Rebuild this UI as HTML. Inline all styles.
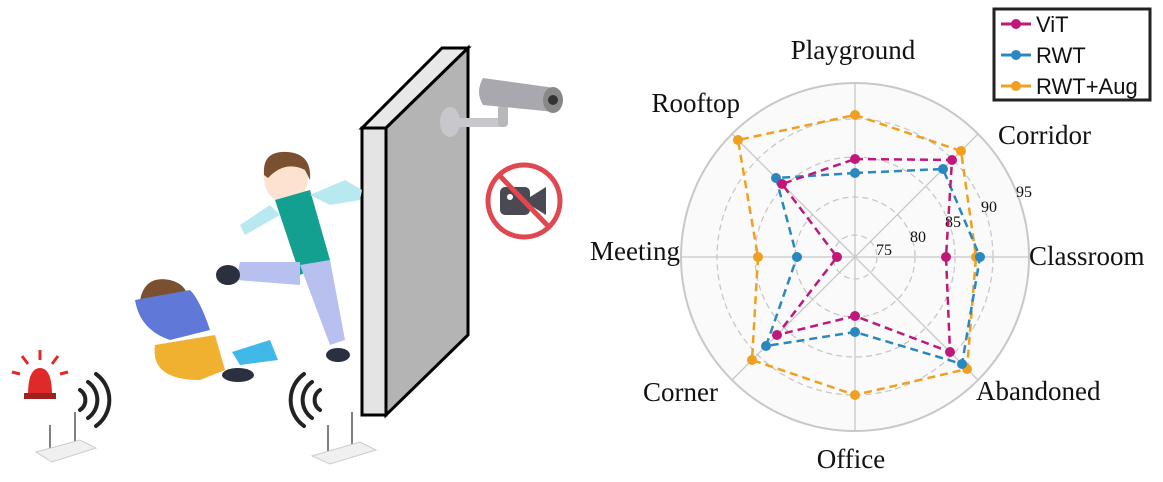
<!DOCTYPE html>
<html><head><meta charset="utf-8"><style>
html,body{margin:0;padding:0;background:#fff;}
svg{display:block;}
</style></head><body>
<svg width="1163" height="482" viewBox="0 0 1163 482" xmlns="http://www.w3.org/2000/svg">
<!-- wall -->
<polygon points="362,128 442,48 468,48 386,128" fill="#e8e8e8" stroke="#000" stroke-width="3"/>
<polygon points="386,128 468,48 468,335 386,415" fill="#b4b4b4" stroke="#000" stroke-width="3"/>
<rect x="362" y="128" width="24" height="287" fill="#e4e4e4" stroke="#000" stroke-width="3"/>
<!-- camera -->
<ellipse cx="450" cy="122" rx="10" ry="15" fill="#c8c8cc"/>
<rect x="450" y="118" width="52" height="9" fill="#c8c8cc"/>
<rect x="498" y="105" width="10" height="22" rx="4" fill="#b8b8bc"/>
<path d="M483,78 L555,88 Q565,100 555,112 L483,105 Q475,92 483,78Z" fill="#a8a8ae"/>
<ellipse cx="553" cy="100" rx="10" ry="13" fill="#888"/>
<circle cx="553" cy="100" r="5" fill="#333"/>
<!-- no-camera sign -->
<circle cx="524" cy="201" r="36" fill="#fff" stroke="#e04850" stroke-width="5"/>
<rect x="500" y="187" width="30" height="28" rx="5" fill="#4a4a55"/>
<polygon points="530,197 546,187 546,215 530,205" fill="#4a4a55"/>
<circle cx="510" cy="197" r="3" fill="#fff"/>
<line x1="500" y1="176" x2="548" y2="226" stroke="#e04850" stroke-width="5"/>
<!-- attacker -->
<ellipse cx="286" cy="178" rx="22" ry="25" fill="#fde3cf"/>
<path d="M264,175 Q262,150 288,152 Q312,154 310,180 L305,170 Q285,160 268,178Z" fill="#7a5030"/>
<path d="M275,200 L310,190 L330,260 L300,275 Z" fill="#14a090"/>
<path d="M300,265 L330,260 L345,340 L330,345 Z" fill="#b8c0f0"/>
<path d="M300,262 L240,262 L236,280 L300,285 Z" fill="#b8c0f0"/>
<ellipse cx="228" cy="275" rx="12" ry="10" fill="#2a3040"/>
<ellipse cx="338" cy="355" rx="12" ry="7" fill="#2a3040"/>
<path d="M270,205 L240,225 L245,235 L280,215Z" fill="#b8e8f0"/>
<path d="M310,195 L345,180 L362,190 L360,200 L330,205Z" fill="#b8e8f0"/>
<!-- victim -->
<ellipse cx="165" cy="308" rx="22" ry="24" fill="#fde3cf"/>
<path d="M140,300 Q145,275 170,280 Q190,285 188,305 L170,295 Z" fill="#7a5030"/>
<path d="M135,300 Q140,330 170,340 L210,330 Q200,300 190,290 Z" fill="#6078d8"/>
<path d="M155,345 Q150,380 200,380 L225,370 L215,335 Z" fill="#f0b030"/>
<ellipse cx="238" cy="375" rx="16" ry="7" fill="#2a3040"/>
<polygon points="232,352 270,340 278,360 240,365" fill="#40b8e8"/>
<!-- alarm -->
<path d="M28,395 Q28,368 40,368 Q52,368 52,395Z" fill="#e02a2a"/>
<rect x="24" y="393" width="32" height="6" fill="#a02020"/>
<g stroke="#e02a2a" stroke-width="3">
<line x1="40" y1="360" x2="40" y2="350"/><line x1="28" y1="364" x2="22" y2="356"/><line x1="52" y1="364" x2="58" y2="356"/>
<line x1="20" y1="374" x2="12" y2="372"/><line x1="60" y1="374" x2="68" y2="372"/>
</g>
<!-- wifi arcs -->
<g fill="none" stroke="#222" stroke-width="4" stroke-linecap="round">
<path d="M80,410 A12,12 0 0 0 80,390"/><path d="M88,418 A22,22 0 0 0 88,382"/><path d="M96,426 A32,32 0 0 0 96,374"/>
<path d="M320,410 A12,12 0 0 1 320,390"/><path d="M312,418 A22,22 0 0 1 312,382"/><path d="M304,426 A32,32 0 0 1 304,374"/>
</g>
<!-- routers -->
<g stroke="#555" stroke-width="1.5"><line x1="50" y1="425" x2="50" y2="448"/><line x1="75" y1="412" x2="75" y2="442"/>
<line x1="328" y1="425" x2="328" y2="452"/><line x1="352" y1="412" x2="352" y2="446"/></g>
<polygon points="36,452 80,440 96,448 52,462" fill="#f0f0f0" stroke="#ccc"/>
<polygon points="312,456 360,442 376,450 330,464" fill="#f0f0f0" stroke="#ccc"/>

<!-- ===== Radar chart ===== -->
<circle cx="855" cy="257" r="174" fill="#fafafa" stroke="#c8c8c8" stroke-width="2"/>
<g fill="none" stroke="#c8c8c8" stroke-width="1.3" stroke-dasharray="6,4">
<circle cx="855" cy="257" r="22"/><circle cx="855" cy="257" r="60"/><circle cx="855" cy="257" r="100"/><circle cx="855" cy="257" r="138"/>
</g>
<g stroke="#c8c8c8" stroke-width="1.3">
<line x1="855" y1="83" x2="855" y2="431"/><line x1="681" y1="257" x2="1029" y2="257"/>
<line x1="732" y1="134" x2="978" y2="380"/><line x1="978" y1="134" x2="732" y2="380"/>
</g>
<g font-family="Liberation Serif, serif" font-size="16" fill="#111">
<text x="876" y="255">75</text><text x="910" y="242">80</text><text x="945" y="227">85</text><text x="981" y="212">90</text><text x="1016" y="197">95</text>
</g>
<polygon points="855,115 961,151 976,257 967,369 855,395 752,360 758,257 738,140" fill="none" stroke="#f0a020" stroke-width="2.5" stroke-dasharray="8,5"/>
<g fill="#f0a020"><circle cx="855" cy="115" r="5"/><circle cx="961" cy="151" r="5"/><circle cx="976" cy="257" r="5"/><circle cx="967" cy="369" r="5"/><circle cx="855" cy="395" r="5"/><circle cx="752" cy="360" r="5"/><circle cx="758" cy="257" r="5"/><circle cx="738" cy="140" r="5"/></g>
<polygon points="855,173 943,169 980,257 962,364 855,332 766,346 797,257 776,178" fill="none" stroke="#2a88c0" stroke-width="2.5" stroke-dasharray="8,5"/>
<g fill="#2a88c0"><circle cx="855" cy="173" r="5"/><circle cx="943" cy="169" r="5"/><circle cx="980" cy="257" r="5"/><circle cx="962" cy="364" r="5"/><circle cx="855" cy="332" r="5"/><circle cx="766" cy="346" r="5"/><circle cx="797" cy="257" r="5"/><circle cx="776" cy="178" r="5"/></g>
<polygon points="855,159 952,160 946,257 950,352 855,316 777,335 837,257 782,184" fill="none" stroke="#c0187a" stroke-width="2.5" stroke-dasharray="8,5"/>
<g fill="#c0187a"><circle cx="855" cy="159" r="5"/><circle cx="952" cy="160" r="5"/><circle cx="946" cy="257" r="5"/><circle cx="950" cy="352" r="5"/><circle cx="855" cy="316" r="5"/><circle cx="777" cy="335" r="5"/><circle cx="837" cy="257" r="5"/><circle cx="782" cy="184" r="5"/></g>
<g font-family="Liberation Serif, serif" font-size="27" fill="#111">
<text x="853" y="59" text-anchor="middle">Playground</text>
<text x="998" y="144">Corridor</text>
<text x="1029" y="265">Classroom</text>
<text x="976" y="400">Abandoned</text>
<text x="851" y="468" text-anchor="middle">Office</text>
<text x="718" y="401" text-anchor="end">Corner</text>
<text x="680" y="260" text-anchor="end">Meeting</text>
<text x="740" y="112" text-anchor="end">Rooftop</text>
</g>
<rect x="994" y="9" width="156" height="91" fill="#fff" stroke="#222" stroke-width="3"/>
<g stroke-width="3">
<line x1="1001" y1="24" x2="1031" y2="24" stroke="#c0187a"/><circle cx="1016" cy="24" r="5" fill="#c0187a"/>
<line x1="1001" y1="55" x2="1031" y2="55" stroke="#2a88c0"/><circle cx="1016" cy="55" r="5" fill="#2a88c0"/>
<line x1="1001" y1="86" x2="1031" y2="86" stroke="#f0a020"/><circle cx="1016" cy="86" r="5" fill="#f0a020"/>
</g>
<g font-family="Liberation Sans, sans-serif" font-size="22" fill="#111">
<text x="1036" y="32">ViT</text><text x="1036" y="63">RWT</text><text x="1036" y="94">RWT+Aug</text>
</g>
</svg>
</body></html>
